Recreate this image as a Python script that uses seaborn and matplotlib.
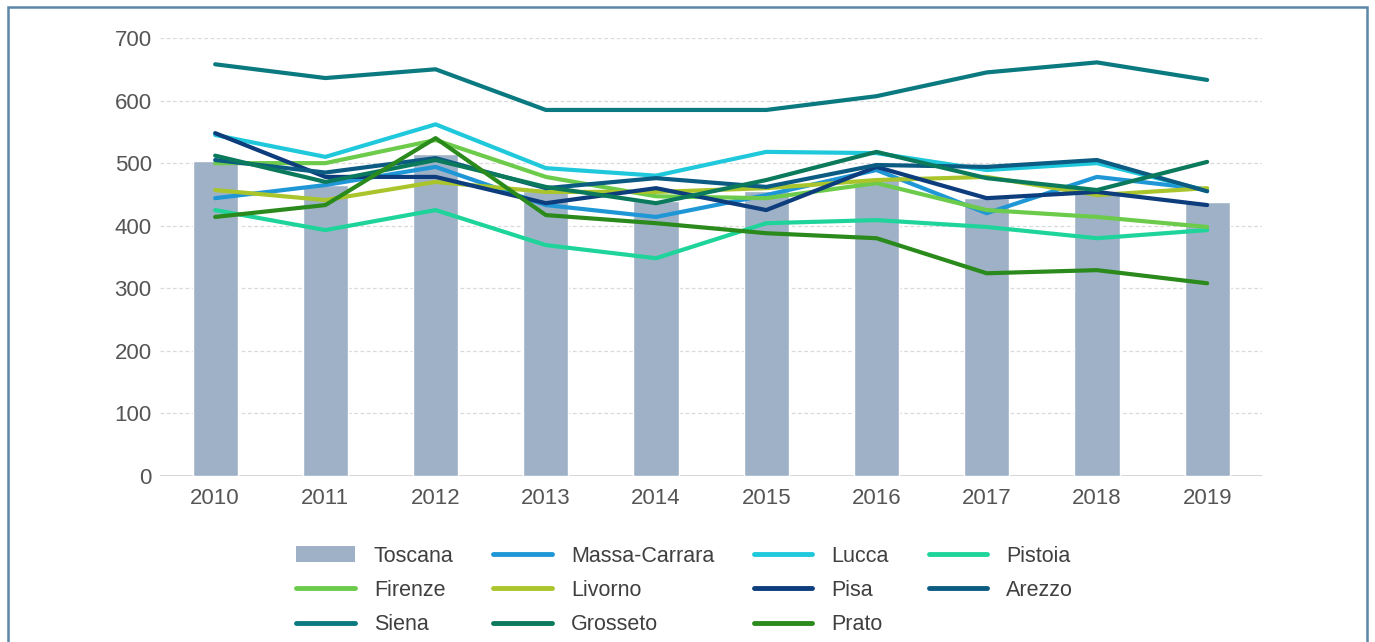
import matplotlib
matplotlib.use("Agg")
import matplotlib.pyplot as plt
from matplotlib.lines import Line2D
from matplotlib.patches import Patch, Rectangle
import pandas as pd
import seaborn as sns

anni = ["2010", "2011", "2012", "2013", "2014", "2015", "2016", "2017", "2018", "2019"]

toscana = [503, 465, 515, 455, 440, 455, 475, 445, 455, 438]

massa_carrara = [444, 465, 494, 433, 414, 449, 489, 420, 478, 458]
lucca = [545, 510, 562, 492, 480, 518, 516, 489, 500, 456]
pistoia = [425, 393, 425, 369, 348, 404, 409, 398, 380, 393]
firenze = [500, 500, 537, 478, 447, 444, 468, 425, 414, 398]
livorno = [457, 441, 470, 454, 454, 460, 473, 478, 449, 460]
pisa = [548, 478, 478, 436, 460, 425, 494, 444, 454, 433]
arezzo = [505, 485, 508, 460, 476, 462, 497, 494, 505, 455]
siena = [658, 636, 650, 585, 585, 585, 607, 645, 661, 633]
grosseto = [512, 470, 505, 462, 436, 473, 518, 476, 457, 502]
prato = [414, 433, 540, 417, 404, 388, 380, 324, 329, 308]

province = {
    "Massa-Carrara": massa_carrara,
    "Lucca": lucca,
    "Pistoia": pistoia,
    "Firenze": firenze,
    "Livorno": livorno,
    "Pisa": pisa,
    "Arezzo": arezzo,
    "Siena": siena,
    "Grosseto": grosseto,
    "Prato": prato,
}

colori = {
    "Massa-Carrara": "#1f97d6",
    "Lucca": "#20c8dc",
    "Pistoia": "#1ed49b",
    "Firenze": "#6ccb4a",
    "Livorno": "#a9c52b",
    "Pisa": "#0d3d7c",
    "Arezzo": "#0b5b82",
    "Siena": "#0b7a80",
    "Grosseto": "#0b795b",
    "Prato": "#2a8a1b",
}
colore_toscana = "#9fb1c6"

sns.set_style("white")
plt.rcParams["font.family"] = ["Liberation Sans", "DejaVu Sans"]
plt.rcParams["lines.solid_capstyle"] = "round"

righe = []
for nome, valori in province.items():
    for a, v in zip(anni, valori):
        righe.append({"anno": a, "valore": v, "provincia": nome})
df = pd.DataFrame(righe)
df_tosc = pd.DataFrame({"anno": anni, "valore": toscana})

fig = plt.figure(figsize=(13.75, 6.42), dpi=100)
ax = fig.add_axes([0.1164, 0.2586, 0.8016, 0.6822])

sns.barplot(data=df_tosc, x="anno", y="valore", color=colore_toscana,
            width=0.41, saturation=1, ax=ax, zorder=2)
sns.lineplot(data=df, x="anno", y="valore", hue="provincia", palette=colori,
             hue_order=list(province.keys()), linewidth=3, legend=False,
             ax=ax, zorder=3)

ax.set_xlim(-0.5, 9.5)
ax.set_ylim(0, 700)
ax.set_yticks(range(0, 701, 100))
ax.yaxis.grid(True, color="#dadada", linestyle=(0, (3, 2)), linewidth=0.9)
ax.set_axisbelow(True)
ax.axhline(0, color="#d0d0d0", linewidth=1.2, zorder=1)
for s in ax.spines.values():
    s.set_visible(False)
ax.set_xlabel("")
ax.set_ylabel("")
ax.tick_params(axis="both", length=0, labelsize=16, labelcolor="#555555")
ax.tick_params(axis="x", pad=9)
ax.tick_params(axis="y", pad=6)

# legend filled row by row
maniglie = {"Toscana": Patch(facecolor=colore_toscana, edgecolor="none")}
for nome in province:
    maniglie[nome] = Line2D([], [], color=colori[nome], linewidth=3.5)
ordine = ["Toscana", "Firenze", "Siena",
          "Massa-Carrara", "Livorno", "Grosseto",
          "Lucca", "Pisa", "Prato",
          "Pistoia", "Arezzo"]
fig.legend([maniglie[n] for n in ordine], ordine, ncol=4, frameon=False,
           loc="center", bbox_to_anchor=(0.498, 0.08), fontsize=15.5,
           handlelength=2.7, handleheight=0.75, handletextpad=0.9,
           columnspacing=1.85, labelspacing=0.62, labelcolor="#404040")

fig.patches.append(Rectangle((8 / 1375, -0.05), 1359 / 1375, 1.05 - 7 / 642,
                             transform=fig.transFigure, fill=False,
                             edgecolor="#5a87aa", linewidth=1.8))

fig.savefig("out.png", dpi=100)
